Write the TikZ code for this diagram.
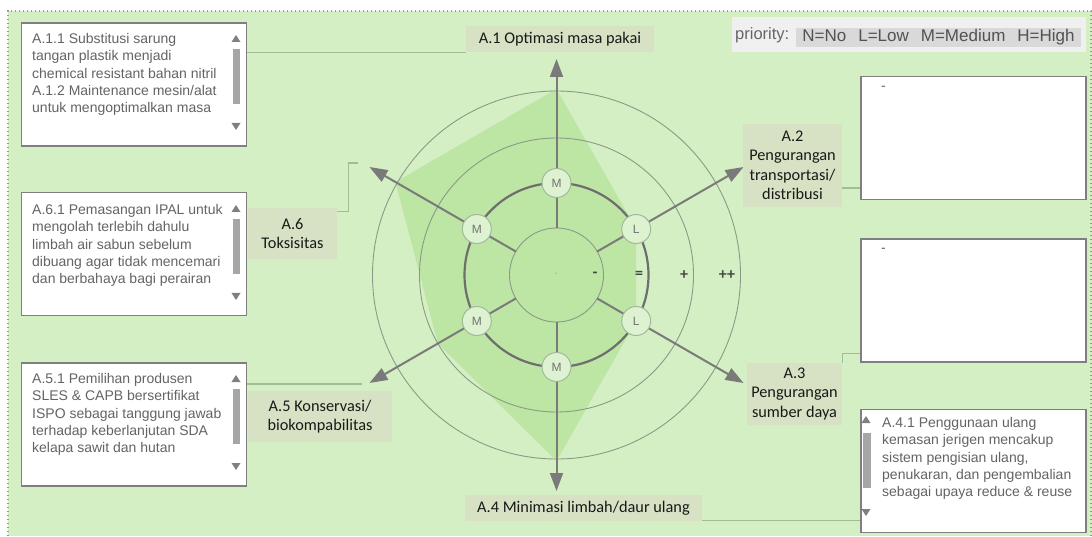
\documentclass[tikz,border=0pt]{standalone}
\usepackage{fontspec}
\setmainfont{Liberation Sans}
\newfontfamily\carl{Carlito}
\usetikzlibrary{arrows.meta,calc}
\definecolor{bg}{HTML}{D4EFC4}
\definecolor{poly}{HTML}{BDE5A4}
\definecolor{labfill}{HTML}{D6E2C3}
\definecolor{conncol}{HTML}{A3BC96}
\definecolor{thincirc}{HTML}{8B9A86}
\definecolor{thickcirc}{HTML}{6E6E6E}
\definecolor{spokecol}{HTML}{7A7A7A}
\definecolor{nodefill}{HTML}{DCF2D0}
\definecolor{nodeline}{HTML}{A3B89B}
\definecolor{boxline}{HTML}{7F7F7F}
\definecolor{boxtext}{HTML}{646464}
\definecolor{scrollcol}{HTML}{808080}
\definecolor{barcol}{HTML}{A6A6A6}
\newcommand\scrollbarat[1]{%
  \begin{scope}[shift={#1}]
    \fill[scrollcol] (-4.5,-19) -- (4.5,-19) -- (0,-12) -- cycle;
    \fill[barcol] (-3.5,-26) rectangle (4,-81);
    \fill[scrollcol] (-4.5,-100) -- (4.5,-100) -- (0,-107) -- cycle;
  \end{scope}}
\begin{document}
\begin{tikzpicture}[x=1pt,y=1pt,
  tbox/.style={draw=boxline, line width=1.3pt, fill=white, minimum width=225, minimum height=123, inner sep=0},
  btext/.style={anchor=north west, inner sep=0, align=left, text=boxtext, font=\fontsize{14}{17.4}\selectfont},
  lab/.style={fill=labfill, inner sep=0, align=center, text=black!90, font=\carl\fontsize{16.3}{19.5}\selectfont},
  conn/.style={draw=conncol, line width=1.2pt},
  spoke/.style={draw=spokecol, line width=2pt, -{Triangle[length=18pt,width=13pt]}},
  lvl/.style={circle, draw=nodeline, line width=1pt, fill=nodefill, minimum size=29, inner sep=0, text=black!55, font=\fontsize{12}{12}\selectfont},
  scl/.style={inner sep=0, text=black!72, font=\carl\bfseries\fontsize{16}{16}\selectfont}]
\useasboundingbox (0,0) rectangle (1092,536);
\fill[white] (0,0) rectangle (1092,536);
\fill[bg] (8,0) rectangle (1092,525);
\draw[black!40, line width=1.2pt, dash pattern=on 1.2pt off 2.8pt] (8,0) -- (8,525) -- (1091,525) -- (1091,0);

% legend
\node[fill=black!6, minimum width=354, minimum height=35, inner sep=0] (leg) at (909,501.5) {};
\node[anchor=west, inner sep=0, text=black!60, font=\fontsize{16.5}{16.5}\selectfont] (legt) at (735,501) {priority:};
\node[fill=black!15, minimum width=285, minimum height=19, inner sep=0, text=black!68, font=\fontsize{17}{17}\selectfont] (legk) at (938.5,498.5) {N=No\hspace{12pt}L=Low\hspace{12pt}M=Medium\hspace{12pt}H=High};

% radar
\coordinate (c) at (556.5,261);
\fill[poly] ($(c)+(90:186)$) -- ($(c)+(30:92)$) -- ($(c)+(-30:92)$) -- ($(c)+(-90:186)$) -- ($(c)+(-150:137)$) -- ($(c)+(150:186)$) -- cycle;
\draw[thincirc, line width=0.9pt] (c) circle[radius=47];
\draw[thincirc, line width=0.9pt] (c) circle[radius=137];
\draw[thincirc, line width=0.9pt] (c) circle[radius=184];
\draw[thickcirc, line width=2.2pt] (c) circle[radius=92];
\foreach \a in {90,30,-30,-90,-150,150}
  \draw[spoke] ($(c)+(\a:47)$) -- ($(c)+(\a:216)$);
\node[lvl] (n1) at ($(c)+(90:92)$) {M};
\node[lvl] (n2) at ($(c)+(30:92)$) {L};
\node[lvl] (n3) at ($(c)+(-30:92)$) {L};
\node[lvl] (n4) at ($(c)+(-90:92)$) {M};
\node[lvl] (n5) at ($(c)+(-150:92)$) {M};
\node[lvl] (n6) at ($(c)+(150:92)$) {M};
\node[scl, text=black!35, font=\carl\fontsize{10}{10}\selectfont] (s0) at (c) {·};
\node[scl] (s1) at ($(c)+(38.5,0)$) {-};
\node[scl] (s2) at ($(c)+(82.5,0)$) {=};
\node[scl] (s3) at ($(c)+(127.5,0)$) {+};
\node[scl] (s4) at ($(c)+(170.5,0)$) {++};

% labels
\node[lab, minimum width=188, minimum height=26] (a1) at (560,497) {A.1 Optimasi masa pakai};
\node[lab, minimum width=99, minimum height=83] (a2) at (792.5,370.5) {A.2\\Pengurangan\\transportasi/\\distribusi};
\node[lab, minimum width=95, minimum height=62] (a3) at (794.5,142) {A.3\\Pengurangan\\sumber daya};
\node[lab, minimum width=237, minimum height=26] (a4) at (583.5,28) {A.4 Minimasi limbah/daur ulang};
\node[lab, minimum width=144, minimum height=51] (a5) at (320,119.5) {A.5 Konservasi/\\biokompabilitas};
\node[lab, minimum width=89, minimum height=51] (a6) at (292.5,302.5) {A.6\\Toksisitas};

% text boxes
\node[tbox] (b1) at (134,451.5) {};
\node[tbox] (b6) at (134,282) {};
\node[tbox] (b5) at (134,111.5) {};
\node[tbox] (b2) at (973.5,398) {};
\node[tbox] (b3) at (973.5,235.5) {};
\node[tbox] (b4) at (973.5,65) {};

\node[btext] (t1) at (32,503) {A.1.1 Substitusi sarung\\tangan plastik menjadi\\chemical resistant bahan nitril\\A.1.2 Maintenance mesin/alat\\untuk mengoptimalkan masa};
\node[btext] (t6) at (32,332) {A.6.1 Pemasangan IPAL untuk\\mengolah terlebih dahulu\\limbah air sabun sebelum\\dibuang agar tidak mencemari\\dan berbahaya bagi perairan};
\node[btext] (t5) at (32,163) {A.5.1 Pemilihan produsen\\SLES \& CAPB bersertifikat\\ISPO sebagai tanggung jawab\\terhadap keberlanjutan SDA\\kelapa sawit dan hutan};
\node[btext] (t4) at (882,119) {A.4.1 Penggunaan ulang\\kemasan jerigen mencakup\\sistem pengisian ulang,\\penukaran, dan pengembalian\\sebagai upaya reduce \& reuse};
\node[btext] (t2) at (881,450) {-};
\node[btext] (t3) at (881,288) {-};

\scrollbarat{(236,513)}
\scrollbarat{(236,343)}
\scrollbarat{(236,173)}
\fill[scrollcol] (861.5,113) -- (870.5,113) -- (866,120) -- cycle;
\fill[barcol] (863,103) rectangle (870.5,48);
\fill[scrollcol] (861.5,27) -- (870.5,27) -- (866,20) -- cycle;

% connectors
\draw[conn] (a1.south west) -- (a1.south west -| b1.east);
\draw[conn] ([yshift=-22.5pt]a2.east) coordinate (p2) -- (p2 -| b2.west);
\draw[conn] (a3.north east) -- ++(0,9) coordinate (p3) -- (p3 -| b3.west);
\draw[conn] ([yshift=1pt]a4.south east) coordinate (p4) -- (p4 -| b4.west);
\coordinate (e5) at (362,152);
\draw[conn] (e5 -| b5.east) -- (e5);
\coordinate (e6) at (358,373);
\draw[conn] ([yshift=-4pt]a6.north east) -- ++(11,0) |- (e6);
\end{tikzpicture}
\end{document}
